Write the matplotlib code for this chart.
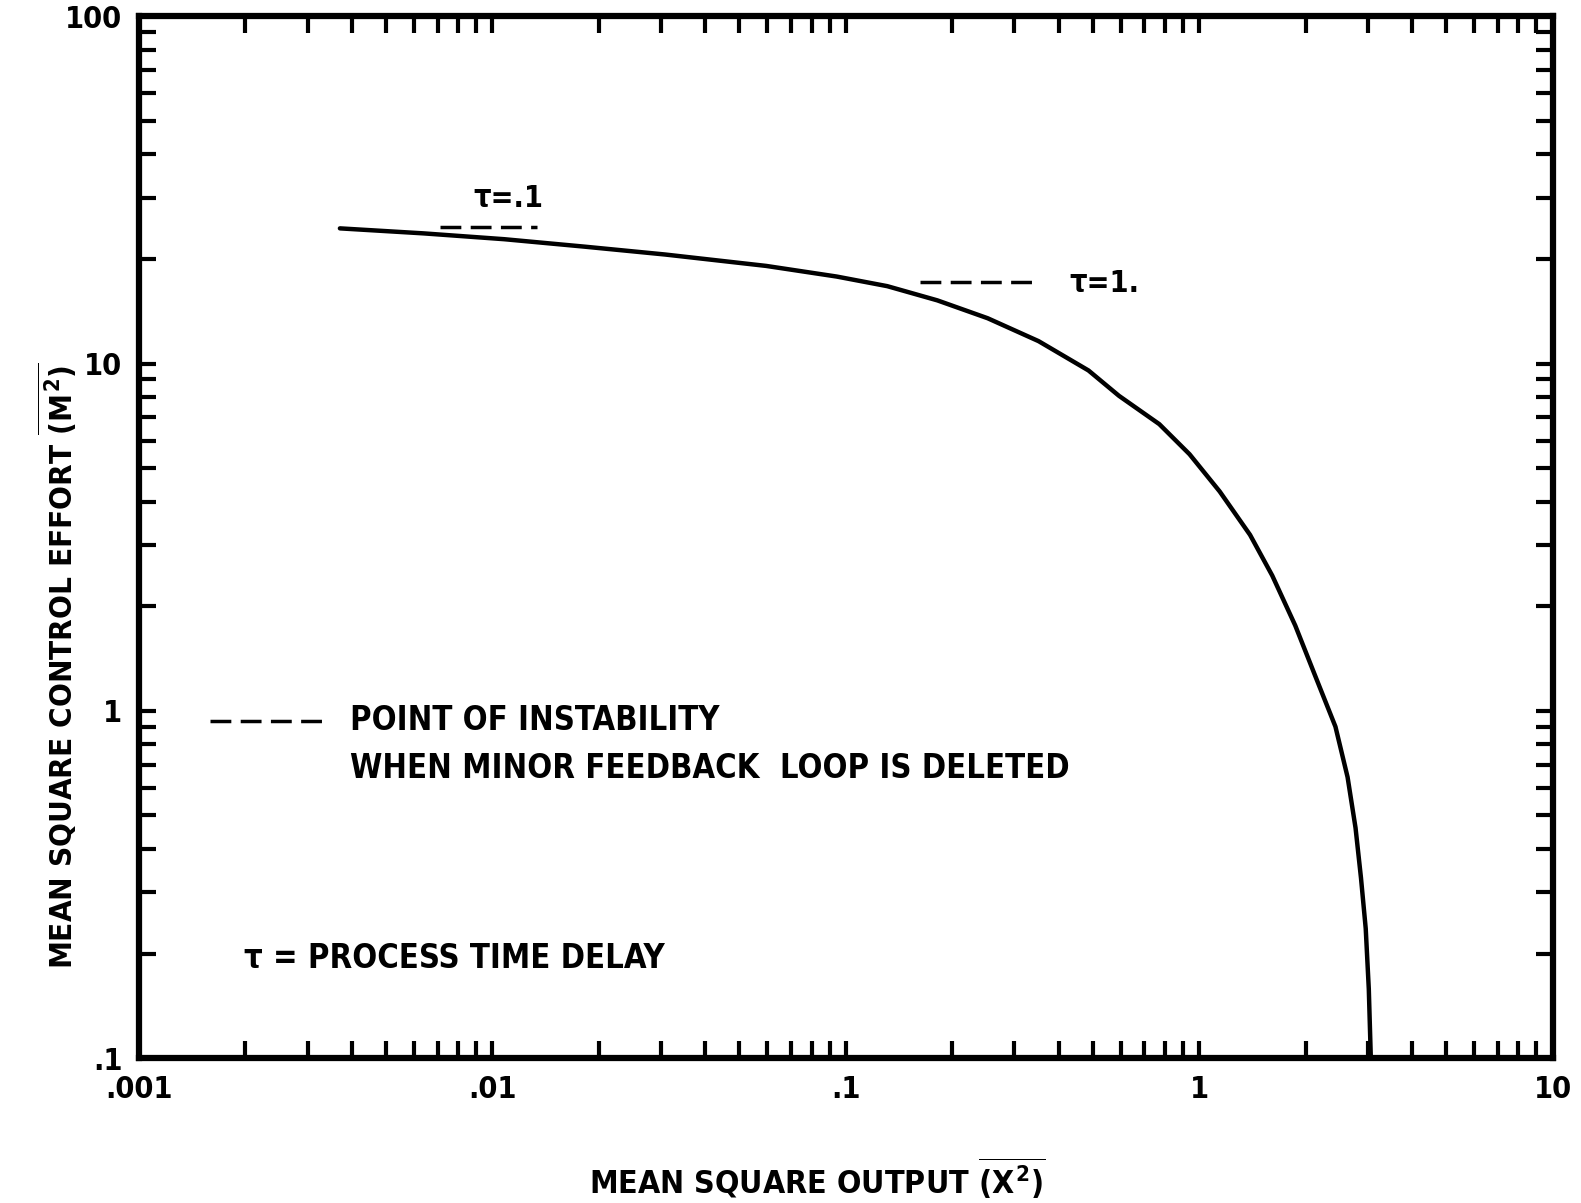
import matplotlib
matplotlib.use("Agg")
import matplotlib.pyplot as plt
from matplotlib.ticker import FixedLocator, FixedFormatter, LogLocator, NullFormatter

plt.rcParams['font.family'] = ['DejaVu Sans']
plt.rcParams['font.weight'] = 'bold'
plt.rcParams['font.stretch'] = 'condensed'
plt.rcParams['mathtext.fontset'] = 'custom'
plt.rcParams['mathtext.rm'] = 'DejaVu Sans:weight=bold:stretch=condensed'
plt.rcParams['mathtext.it'] = 'DejaVu Sans:weight=bold:stretch=condensed'
plt.rcParams['mathtext.bf'] = 'DejaVu Sans:weight=bold:stretch=condensed'

# curve: mean square output vs mean square control effort
x_out = [0.0037, 0.00638, 0.0108, 0.01824, 0.0308, 0.0595, 0.0942, 0.131,
         0.1815, 0.252, 0.351, 0.486, 0.593, 0.771, 0.939, 1.143, 1.393,
         1.61, 1.87, 2.13, 2.43, 2.63, 2.77, 2.87, 2.96, 3.02, 3.06]
y_effort = [24.5, 23.7, 22.8, 21.7, 20.6, 19.1, 17.8, 16.7,
            15.2, 13.5, 11.6, 9.55, 8.07, 6.69, 5.48, 4.28, 3.21,
            2.45, 1.76, 1.26, 0.90, 0.644, 0.46, 0.33, 0.236, 0.158, 0.10]

# points of instability (dashed marks)
tau01_x = [0.0071, 0.0134]
tau01_y = [24.8, 24.8]
tau1_x = [0.162, 0.349]
tau1_y = [17.2, 17.2]
legend_x = [0.00159, 0.00343]
legend_y = [0.936, 0.936]

x_ticks = [0.001, 0.01, 0.1, 1, 10]
x_labels = ['.001', '.01', '.1', '1', '10']
y_ticks = [0.1, 1, 10, 100]
y_labels = ['.1', '1', '10', '100']

fig = plt.figure(figsize=(15.81, 12.03), dpi=100)
ax = fig.add_axes([0.088, 0.1205, 0.894, 0.866])

ax.plot(x_out, y_effort, color='black', linewidth=3.2,
        solid_capstyle='round', solid_joinstyle='round')
for xs, ys in [(tau01_x, tau01_y), (tau1_x, tau1_y), (legend_x, legend_y)]:
    ax.plot(xs, ys, color='black', linewidth=2.5, dashes=(6, 2.7))

ax.set_xscale('log')
ax.set_yscale('log')
ax.set_xlim(0.001, 10)
ax.set_ylim(0.1, 100)

ax.xaxis.set_major_locator(FixedLocator(x_ticks))
ax.xaxis.set_major_formatter(FixedFormatter(x_labels))
ax.yaxis.set_major_locator(FixedLocator(y_ticks))
ax.yaxis.set_major_formatter(FixedFormatter(y_labels))
ax.xaxis.set_minor_locator(LogLocator(base=10, subs=range(2, 10)))
ax.yaxis.set_minor_locator(LogLocator(base=10, subs=range(2, 10)))
ax.xaxis.set_minor_formatter(NullFormatter())
ax.yaxis.set_minor_formatter(NullFormatter())

ax.tick_params(which='both', direction='in', top=True, right=True,
               width=3, labelsize=22)
ax.tick_params(which='major', length=12, pad=12)
ax.tick_params(which='minor', length=12)
for s in ax.spines.values():
    s.set_linewidth(4.5)

# axis titles placed on the figure so they sit where the reference has them
fig.text(0.517, 0.021, r'MEAN SQUARE OUTPUT $\overline{(X^2)}$',
         fontsize=23, fontweight='bold', ha='center', va='center')
fig.text(0.036, 0.447, r'MEAN SQUARE CONTROL EFFORT $\overline{(M^2)}$',
         fontsize=22.5, fontweight='bold', ha='center', va='center', rotation=90)

ax.text(0.0111, 29.8, 'τ=.1', fontsize=22, ha='center', va='center')
ax.text(0.54, 17.0, 'τ=1.', fontsize=22, ha='center', va='center')
ax.text(0.00395, 0.936, 'POINT OF INSTABILITY', fontsize=23.5, va='center')
ax.text(0.00395, 0.681, 'WHEN MINOR FEEDBACK  LOOP IS DELETED', fontsize=23.5, va='center')
ax.text(0.00198, 0.193, 'τ = PROCESS TIME DELAY', fontsize=23.5, va='center')

fig.savefig('out.png', dpi=100)
